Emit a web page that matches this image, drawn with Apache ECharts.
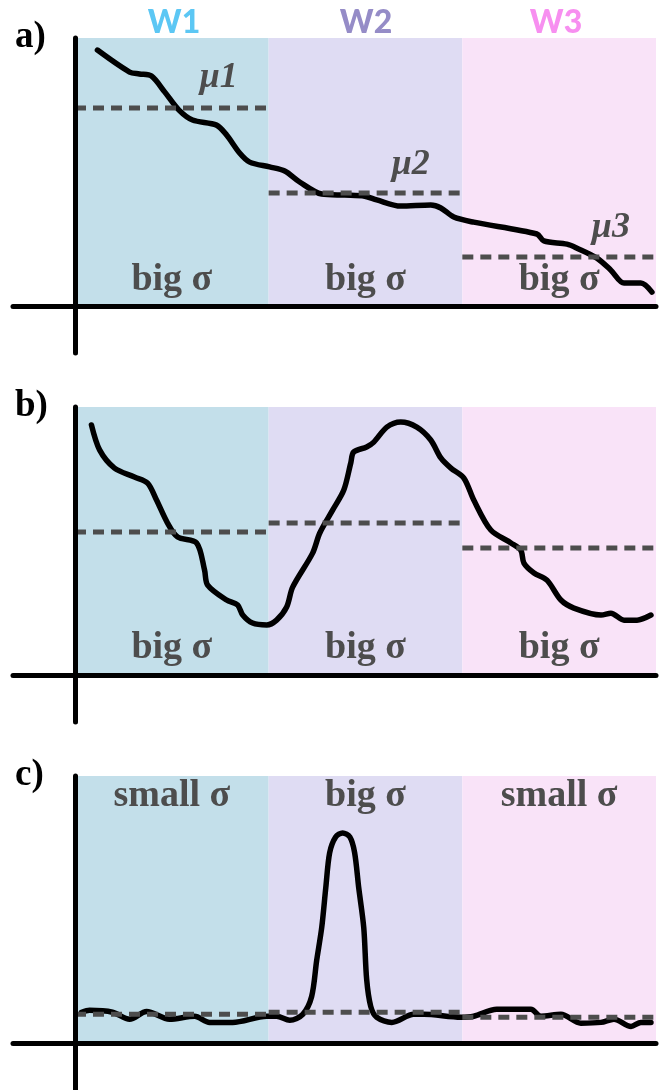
<!DOCTYPE html>
<html>
<head>
<meta charset="utf-8">
<script src="https://cdn.jsdelivr.net/npm/echarts@6/dist/echarts.min.js"></script>
<style>
  html, body { margin: 0; padding: 0; background: #ffffff; }
  #chart { width: 668px; height: 1090px; }
</style>
</head>
<body>
<div id="chart"></div>
<script>
// Windows along the time axis
const windows = ['W1', 'W2', 'W3'];
const windowEdges = [0, 1, 2, 3];

// a) steadily falling signal
const signalA = [
  [0.116, 9.55], [0.282, 8.73], [0.333, 8.66], [0.395, 8.58], [0.463, 7.99],
  [0.537, 7.31], [0.607, 6.94], [0.731, 6.75], [0.783, 6.38], [0.850, 5.71],
  [0.902, 5.37], [1.005, 5.19], [1.083, 5.04], [1.160, 4.63], [1.274, 4.18],
  [1.393, 4.14], [1.496, 4.10], [1.558, 3.96], [1.682, 3.73], [1.837, 3.77],
  [1.889, 3.66], [1.956, 3.32], [2.059, 3.13], [2.385, 2.69], [2.421, 2.43],
  [2.540, 2.31], [2.592, 2.16], [2.695, 1.79], [2.767, 1.34], [2.835, 0.86],
  [2.922, 0.86], [2.979, 0.52]
];
const meansA = [7.39, 4.22, 1.83];
const sigmaA = ['big σ', 'big σ', 'big σ'];
const muLabels = ['μ1', 'μ2', 'μ3'];
const muLabelPos = [[0.742, 8.51], [1.734, 5.26], [2.767, 2.91]];

// b) dip then hump
const signalB = [
  [0.085, 9.33], [0.127, 8.40], [0.204, 7.72], [0.307, 7.39], [0.375, 7.16],
  [0.421, 6.53], [0.478, 5.67], [0.530, 5.15], [0.628, 4.93], [0.669, 3.92],
  [0.685, 3.36], [0.783, 2.80], [0.840, 2.61], [0.866, 2.24], [0.917, 1.94],
  [0.990, 1.87], [1.041, 2.05], [1.093, 2.54], [1.124, 3.28], [1.227, 4.55],
  [1.264, 5.30], [1.331, 6.16], [1.388, 6.90], [1.424, 7.91], [1.439, 8.32],
  [1.506, 8.51], [1.543, 8.69], [1.610, 9.25], [1.682, 9.44], [1.765, 9.25],
  [1.837, 8.77], [1.889, 8.10], [1.941, 7.72], [2.008, 7.35], [2.059, 6.53],
  [2.147, 5.41], [2.251, 4.93], [2.302, 4.66], [2.318, 4.18], [2.370, 3.81],
  [2.437, 3.54], [2.509, 2.80], [2.576, 2.50], [2.716, 2.24], [2.767, 2.31],
  [2.835, 2.05], [2.902, 2.05], [2.974, 2.24]
];
const meansB = [5.34, 5.67, 4.74];
const sigmaB = ['big σ', 'big σ', 'big σ'];

// c) flat baseline with a single spike in W2
const signalC = [
  [0.034, 1.16], [0.075, 1.23], [0.194, 1.16], [0.282, 0.90], [0.370, 1.19],
  [0.488, 0.90], [0.618, 1.01], [0.695, 0.78], [0.814, 0.78], [0.990, 1.01],
  [1.041, 1.01], [1.109, 0.86], [1.176, 1.08], [1.222, 1.75], [1.248, 3.10],
  [1.274, 4.33], [1.295, 5.82], [1.315, 7.13], [1.346, 7.72], [1.382, 7.87],
  [1.419, 7.72], [1.444, 7.13], [1.465, 5.82], [1.491, 4.33], [1.506, 2.39],
  [1.527, 1.38], [1.558, 0.97], [1.636, 0.78], [1.749, 1.08], [1.801, 1.08],
  [1.992, 0.97], [2.059, 1.01], [2.178, 1.27], [2.354, 1.27], [2.406, 1.01],
  [2.509, 1.08], [2.612, 0.75], [2.716, 0.78], [2.783, 0.90], [2.871, 0.63],
  [2.922, 0.78], [2.974, 0.78]
];
const meansC = [1.08, 1.16, 0.97];
const sigmaC = ['small σ', 'big σ', 'small σ'];
const sigmaLevel = [0.97, 1.0, 9.25];

const panelLetters = ['a)', 'b)', 'c)'];
const panels = [
  { signal: signalA, means: meansA, sigma: sigmaA },
  { signal: signalB, means: meansB, sigma: sigmaB },
  { signal: signalC, means: meansC, sigma: sigmaC }
];

const windowFill = ['#c3dfea', '#dfdcf3', '#f9e3f8'];
const windowInk = ['#5cc7f4', '#958cc7', '#f78ff0'];
const grey = '#4d4d4d';
const serif = '"Liberation Serif", "DejaVu Serif", serif';

const PANEL_STEP = 369;
const grids = [], xAxes = [], yAxes = [], series = [], graphics = [];

panels.forEach((p, k) => {
  grids.push({ left: 13, right: 12, top: 38 + PANEL_STEP * k, height: 315 });
  xAxes.push({
    gridIndex: k, type: 'value', min: -0.32, max: 3, z: 5,
    axisLine: { show: true, onZero: true, lineStyle: { color: '#000', width: 5 } },
    axisTick: { show: false }, axisLabel: { show: false }, splitLine: { show: false }
  });
  yAxes.push({
    gridIndex: k, type: 'value', min: -1.75, max: 10, z: 5,
    axisLine: { show: true, onZero: true, lineStyle: { color: '#000', width: 5 } },
    axisTick: { show: false }, axisLabel: { show: false }, splitLine: { show: false }
  });

  // signal curve with the three window backgrounds
  series.push({
    type: 'line', xAxisIndex: k, yAxisIndex: k, data: p.signal,
    smooth: 0.3, showSymbol: false, silent: true, z: 2,
    lineStyle: { color: '#000', width: 5.5, cap: 'round', join: 'round' },
    markArea: {
      silent: true,
      data: windows.map((w, i) => [
        { xAxis: windowEdges[i], yAxis: 0, itemStyle: { color: windowFill[i] } },
        { xAxis: windowEdges[i + 1], yAxis: 10 }
      ])
    }
  });

  // window means as dashed segments
  p.means.forEach((m, i) => {
    series.push({
      type: 'line', xAxisIndex: k, yAxisIndex: k, silent: true, z: 3,
      data: [[windowEdges[i], m], [windowEdges[i + 1], m]],
      showSymbol: false,
      lineStyle: { color: grey, width: 5, type: [11, 7], cap: 'butt' }
    });
  });

  // sigma captions
  series.push({
    type: 'scatter', xAxisIndex: k, yAxisIndex: k, silent: true, z: 4,
    symbolSize: 0, itemStyle: { opacity: 1 },
    data: p.sigma.map((s, i) => [i + 0.5, sigmaLevel[k], s]),
    label: {
      show: true, position: 'inside', formatter: d => d.data[2],
      fontFamily: serif, fontWeight: 'bold', fontSize: 38, color: grey
    }
  });

  graphics.push({
    type: 'text', left: 15, top: 38 + PANEL_STEP * k - 19,
    style: { text: panelLetters[k], font: 'bold 37px ' + serif, fill: '#000' }
  });
});

// mean labels in panel a
series.push({
  type: 'scatter', xAxisIndex: 0, yAxisIndex: 0, silent: true, z: 4,
  symbolSize: 0, itemStyle: { opacity: 1 },
  data: muLabelPos.map((pos, i) => [pos[0], pos[1], muLabels[i]]),
  label: {
    show: true, position: 'inside', formatter: d => d.data[2],
    fontFamily: serif, fontWeight: 'bold', fontStyle: 'italic', fontSize: 36, color: grey
  }
});

// window headers
const headerX = [174, 366, 556];
windows.forEach((w, i) => {
  graphics.push({
    type: 'text', x: headerX[i], y: 23,
    style: {
      text: w, font: '900 32px Lato, "Open Sans", sans-serif',
      fill: windowInk[i], textAlign: 'center', textVerticalAlign: 'middle'
    }
  });
});

const chart = echarts.init(document.getElementById('chart'), null, { renderer: 'canvas' });
chart.setOption({
  animation: false,
  backgroundColor: '#ffffff',
  grid: grids,
  xAxis: xAxes,
  yAxis: yAxes,
  series: series,
  graphic: graphics
});
</script>
</body>
</html>
